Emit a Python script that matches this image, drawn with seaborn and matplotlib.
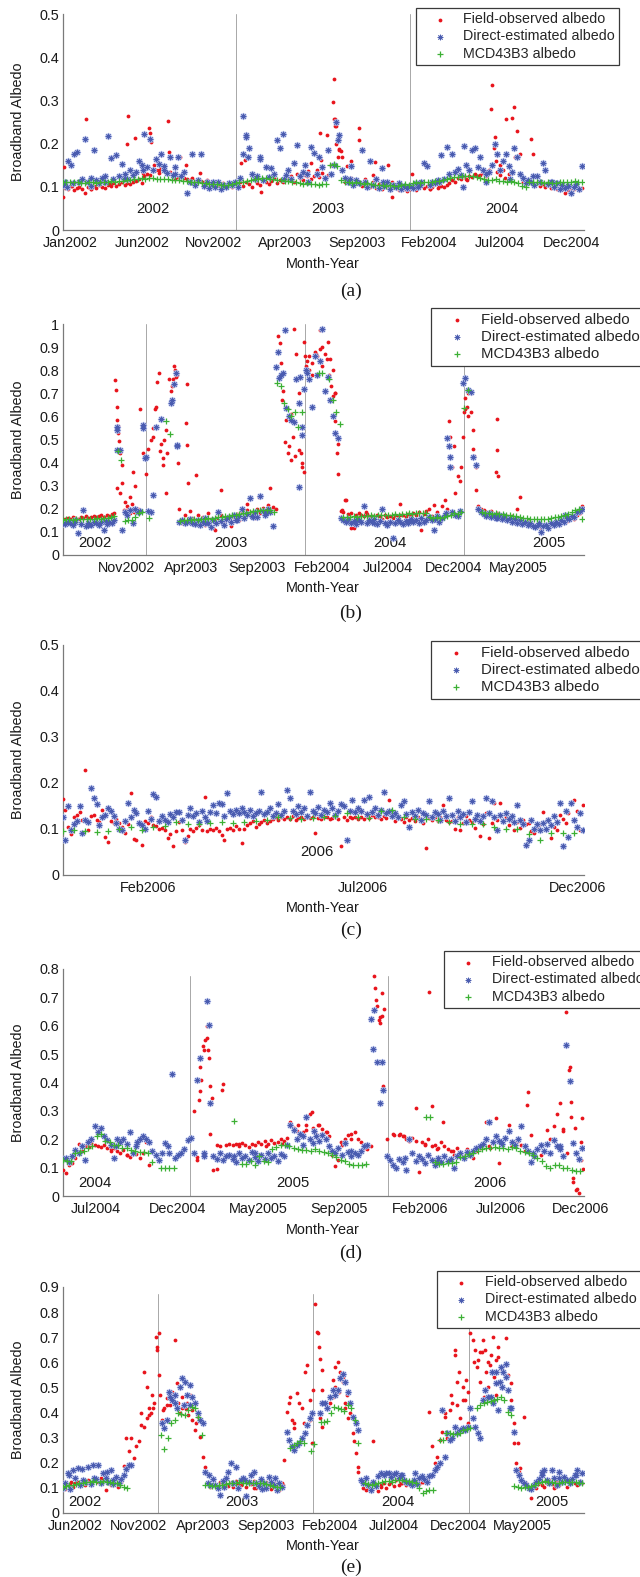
import numpy as np
import pandas as pd
import matplotlib
matplotlib.use("Agg")
import matplotlib.pyplot as plt
from matplotlib.markers import MarkerStyle
import seaborn as sns

sns.set_style("white")
plt.rcParams["font.family"] = ["Liberation Sans", "DejaVu Sans"]

N = float("nan")

# ------------------------------------------------------------------ panel (a)
# values in thousandths of albedo; daily obs shown every 6 days, MCD43B3 every 8 days
a_ticks = [17, 169, 321, 473, 626, 778, 930, 1082]
a_tick_labels = ["Jan2002", "Jun2002", "Nov2002", "Apr2003", "Sep2003", "Feb2004", "Jul2004", "Dec2004"]
a_xmax, a_ymax = 1108, 0.5
a_year_lines = [368, 739]
a_year_days = [192, 563, 934]
a_years = ["2002", "2003", "2004"]
a_field = [77, 98, 95, 101, 92, 97, 100, 94,
           86, 99, 96, 102, 98, 104, 100, 97, 105, 103, 108, 101, 106, 110, 104, 109, 107, 112,
           113, 118, 109, 125, 130, 128, 136, 140, 133, 146, 138, 131, 135, 127, 129, 122, 126, 120,
           118, 115, 121, 112, 117, 113, 110, 116, 108, 112, 106, 110, 104, 108, 102, 106,
           100, 106, 98, 110, 103, 112, 107, 99, 115, 108, 104, 118, 111, 106, 113, 120, 109, 115, 112, 117,
           118, 124, 112, 130, 121, 115, 128, 136, 119, 126, 140, 123, 132, 117, 127,
           150, 256, 240, 185, 170,
           112, 108, 120, 105, 115, 110, 103, 118, 107, 100, 112, 98, 106, 95, 102, 99, 92, 104, 97, 93, 100, 95, 90,
           96, 101, 93, 99, 104, 97, 102, 95, 100, 106, 98, 103, 100, 105,
           108, 115, 112, 120, 117, 124, 119, 126, 122, 130, 125, 128,
           132, 125, 138, 335, 215, 135, 127, 140, 256, 130, 133, 284, 230, 175,
           112, 106, 115, 110, 104, 108, 102, 107, 100, 105, 98, 103, 96, 101, 94, 99, 92, 97, 95, 100, 93, 98]
a_field_extra = [(4, 145), (49, 258), (140, 264), (136, 199), (154, 214), (184, 237), (186, 225), (188, 204),
                 (225, 252), (227, 180), (249, 170), (262, 150), (200, 160), (195, 150), (292, 131), (379, 154),
                 (388, 162), (422, 89), (527, 154), (548, 225), (550, 162), (561, 220), (574, 296), (577, 349),
                 (578, 258), (580, 240), (582, 200), (588, 188), (591, 183), (585, 170), (604, 147), (612, 160),
                 (629, 235), (631, 208), (639, 185), (656, 160), (665, 157), (691, 150), (700, 77), (743, 130),
                 (910, 280), (916, 190), (922, 160), (929, 150), (955, 260), (960, 190), (962, 170), (996, 210),
                 (999, 175), (1068, 85), (20, 103), (60, 95), (100, 108), (170, 132), (178, 145), (205, 140),
                 (240, 118), (330, 104), (470, 118), (520, 125), (600, 119), (660, 128), (700, 112), (780, 96),
                 (800, 102), (860, 116), (880, 125), (940, 120), (1020, 108), (1090, 104)]
a_direct = [105, 112, 160, 150, 176, 181, 110, 118,
            210, 110, 102, 185, 115, 108, 120, 112, 218, 166, 118, 174, 125, 153, 130, 118, 140, 127,
            135, 160, 150, 222, 145, 210, 138, 165, 152, 177, 140, 132, 168, 128, 145, 170, 125, 135,
            85, 110, 177, 105, 115, 175, 102, 112, 98, 106, 100, 110, 95, 104, 99, 108,
            105, 112, 100, 120, 264, 220, 190, 130, 118, 125, 170, 115, 145, 122, 143, 130, 208, 190, 222, 128,
            140, 118, 155, 197, 125, 135, 150, 112, 193, 178, 130, 170, 145, 120, 185,
            130, 150, 250, 220, 140,
            120, 110, 147, 105, 115, 108, 185, 112, 100, 160, 105, 118, 98, 143, 102, 110, 96, 104, 100, 108, 95, 102, 98,
            103, 98, 108, 100, 110, 154, 147, 105, 112, 108, 115, 174, 118, 193,
            130, 177, 135, 142, 128, 195, 150, 140, 185, 190, 145, 170,
            140, 130, 135, 150, 200, 177, 140, 160, 177, 147, 135, 190, 170, 130,
            120, 108, 115, 110, 104, 125, 112, 156, 140, 106, 112, 100, 108, 96, 104, 98, 102, 85, 100, 106, 95, 147]
a_direct_extra = [(10, 100), (22, 108), (60, 120), (90, 125), (130, 118), (170, 140), (215, 148), (240, 130),
                  (320, 112), (383, 177), (390, 216), (395, 170), (420, 165), (470, 118), (520, 130), (585, 208),
                  (610, 118), (680, 112), (760, 105), (800, 112), (850, 100), (900, 112), (950, 118), (1000, 125),
                  (1040, 110), (1075, 102)]
a_mcd = [112, 111, 110, 112, 110, 109, 108, 110, 111, 109, 110, 112, 111, 113, 112, 114, 113, 115, 116, 117,
         118, 120, 119, 121, 120, 118, 119,
         118, 117, 116, 115, 116, 114, 113, 112, 111, 110, 109, 108, 107, 106, 106, 105, 104, 105,
         106, 108, 110, 112, 113, 115, 117, 119, 120, 121, 118, 117, 116, 115, 114,
         113, 112, 111, 108, 107, 108, 106, 107, 105, 106,
         107, 150, 152, 148, 115,
         110, 111, 109, 110, 108, 107, 109, 106, 105, 104, 105, 103, 104, 102, 103, 105, 106, 104,
         108, 110, 109, 111, 112, 111, 113, 114, 116, 118,
         120, 122, 123, 125, 124, 126, 125, 122, 121,
         118, 116, 115, 117, 114, 113, 112, 114, 112,
         108, 103, 100, 110,
         111, 112, 110, 109, 110, 108, 109, 110, 111, 110, 112, 113, 111, 112]

# ------------------------------------------------------------------ panel (b)
b_ticks = [147, 296, 448, 600, 751, 902, 1053]
b_tick_labels = ["Nov2002", "Apr2003", "Sep2003", "Feb2004", "Jul2004", "Dec2004", "May2005"]
b_xmax, b_ymax = 1204, 1.0
b_year_lines = [192, 561, 927]
b_year_days = [74, 389, 756, 1123]
b_years = ["2002", "2003", "2004", "2005"]
b_field = [152, 158, 160, 155, 163, 160, 158, 165, 162, 167, 160, 165, 170, 163, 168, 172, 166, 175, 170, 178, 182,
           585, 440, 390, 230, 195, 180, 360, 300, 200, 630,
           440, 350, 460, 500, 550, 640, 790, 480, 500, 270, 760, 730, 820, 780, 200, 140, 175, 740, 190, 160,
           150, 172, 140, 165, 130, 180, 155, 115, 160, 145, 175, 138, 158, 170, 125, 162, 178, 150, 185, 165,
           195, 172, 188, 160, 200, 182, 205, 190, 215, 198, 208,
           200, 948, 830, 710, 585, 470, 410, 978, 870, 455, 380, 920,
           840, 860, 780, 880, 860, 975, 900, 870, 920, 850, 800, 700, 480,
           190, 185, 240, 178, 182, 115, 175, 180, 172, 168, 178, 165, 170, 160, 175, 168, 158, 172, 165, 170,
           162, 175, 168, 220, 172, 165, 178, 170, 182, 175, 185, 110, 178, 190,
           200, 170, 215, 185, 160, 210, 240, 200, 510,
           380, 270, 340, 320, 510, 630, 600, 700, 540, 380, 210, 200,
           195, 185, 178, 190, 172, 180, 168, 175, 165, 170, 160, 168, 155, 162, 150, 158, 145, 152, 140, 130,
           125, 135, 118, 128, 122, 115, 130, 135, 128, 145, 140, 152, 148, 160, 165, 158, 172, 180, 210]
b_field_extra = [(122, 757), (123, 714), (125, 640), (127, 560), (129, 530), (130, 495), (125, 290), (132, 267),
                 (137, 310), (142, 195), (150, 210), (155, 250), (160, 220), (165, 185), (214, 630), (209, 510),
                 (219, 750), (225, 450), (231, 420), (233, 390), (238, 540), (242, 440), (250, 710), (256, 760),
                 (259, 800), (261, 770), (266, 400), (285, 570), (287, 476), (289, 310), (308, 345), (352, 108),
                 (365, 280), (425, 220), (453, 250), (478, 290), (500, 770), (503, 916), (506, 670), (514, 490),
                 (520, 440), (527, 610), (533, 510), (537, 430), (545, 700), (550, 440), (553, 400), (557, 360),
                 (560, 860), (563, 820), (568, 800), (575, 830), (585, 870), (595, 890), (600, 820), (610, 850),
                 (615, 780), (620, 730), (625, 690), (628, 700), (630, 580), (633, 440), (637, 350), (653, 240),
                 (665, 115), (893, 580), (904, 470), (920, 380), (928, 620), (930, 680), (935, 640), (937, 700),
                 (942, 620), (948, 460), (950, 430), (955, 280), (1001, 360), (1004, 590), (1004, 455), (1006, 340),
                 (1050, 200), (1057, 250), (645, 195), (700, 185), (780, 175), (1080, 140), (1120, 130), (1150, 150)]
b_direct = [140, 135, 145, 138, 130, 142, 94, 135, 195, 125, 140, 132, 145, 138, 128, 142, 108, 135, 145, 140, 150,
            555, 455, 108, 185, 175, 195, 137, 200, 185, 190, 563, 425, 190, 185, 260, 555,
            N, 590, N, N, N, 670, 740, 476, 145, 150, 138, 145, 155, 140,
            135, 150, 128, 145, 160, 138, 120, 152, 140, 185, 148, 130, 158, 165, 142, 175, 150, 168, 200, 160,
            178, 245, 170, 185, 165, 255, 190, 175, 200, 185, 125,
            815, 880, 780, 790, 635, 600, 585, 577, 760, 296, 555, 720,
            790, 760, 640, 860, 780, 840, 980, 710, 770, 670, 600, 530, 505,
            160, 150, 145, 155, 140, 148, 135, 152, 145, 210, 138, 150, 142, 155, 135, 148, 200, 140, 130, 145,
            72, 138, 150, 142, 135, 148, 140, 155, 145, 150, 138, 160, 145, 152,
            165, 150, 108, 170, 145, 160, 175, 505, 425,
            185, 175, 170, 190, 743, 765, 715, 707, 425, 390, 200, 185,
            178, 170, 182, 165, 175, 160, 172, 155, 168, 150, 162, 145, 158, 140, 150, 135, 145, 130, 138, 125,
            120, 130, 100, 125, 132, 118, 140, 128, 145, 135, 150, 142, 160, 155, 170, 165, 185, 190, 200]
b_direct_extra = [(126, 540), (126, 455), (185, 550), (190, 420), (250, 660), (261, 790), (264, 470), (500, 765),
                  (514, 974), (546, 656), (553, 520), (562, 800), (549, 770), (893, 470), (895, 380), (885, 180),
                  (30, 150), (60, 128), (100, 148), (330, 140), (400, 150), (440, 165), (470, 180), (680, 155),
                  (720, 140), (800, 148), (860, 158), (1000, 160), (1100, 140), (1160, 175)]
b_mcd = [152, 154, 155, 153, 156, 155, 157, 156, 158, 157, 159, 158, 160, 162, 165, 168,
         450, 410, 149, 150, 152, 166, 180, 188, N, 160, N, N, N, N, 580, 525, N, N,
         147, 150,
         152, 150, 155, 153, 157, 158, 160, 158, 162, 165, 163, 167, 170, 172, 175, 178, 180, 183, 186, 190,
         192, 195, 196, 195, 193, 188,
         746, 730, 660, 630, 600, 620, 555, 620,
         N, N, N, N, 790, 790, N, 760, 670, 620, 565,
         165, 163, 165, 168, 166, 170, 168, 170, 172, 170, 172, 174, 173, 175, 174, 176, 175, 178, 177, 180,
         178, 180, 182, 180, 183, 165, 160, 163, 162, 165, 168,
         175, 180, 178, 185, 635, 715, N, N, N,
         185, 182, 180, 178, 180, 176, 178, 175, 172, 170, 168, 165, 162, 160, 158, 156, 155, 155, 157, 158,
         160, 163, 165, 168, 172, 178, 185, 195, 200, 155]

# ------------------------------------------------------------------ panel (c)  (daily obs every 2 days)
c_ticks = [60.4, 211.3, 362.2]
c_tick_labels = ["Feb2006", "Jul2006", "Dec2006"]
c_xmax, c_ymax = 367, 0.5
c_year_lines = []
c_year_days = [179]
c_years = ["2006"]
c_field = [165, 141, 105, 89, 125, 130, 138,
           120,
           228, 98, 128, 130, 120, 115, 141, 83, 72, 118, 113, 122, 112,
           105, 92, 110, 178, 79, 76, 115, 65, 118,
           112, 127, 108, 106, 100, 102, 97, 80, 90, 63, 95,
           116, 98, 72, 85, 100, 95, 102, 108, 98, 169, 96, 100, 98, 103, 95, 88, 75, 100, 102, 98, 106, 100, 70,
           100, 108, 112, 118, 105, 110, 115, 120, 112, 118, 122, 125, 120, 127, 122,
           125, 122, 128, 120, 124, 126, 121, 125, 123, 127, 92, 124, 122, 126, 125, 121, 124, 128, 122, 63,
           125, 120, 127, 123, 126, 122,
           126, 122, 128, 124, 130, 125, 127, 122, 129, 124,
           163,
           125, 118, 128, 122, 115, 126, 120, 124, 117, 127, 121, 114, 58, 123, 119, 125, 118, 127, 152, 120, 116,
           118, 100, 125, 98, 112, 128, 120, 115, 102, 122, 85, 110, 134, 80,
           112, 156, 120, 156, 118, 125, 108, 130, 98, 115, 102, 120, 110, 112,
           95, 92, 105, 110, 138, 118, 122, 80, 105, 98, 130, 122, 112, 134, 156, 163, 140, 98, 152]
c_field_extra = []
c_direct = [125, 76, 150, 98, 110, 118, 149,
            91, 120, 115, 189, 167, 154, 109, 125, 130, 145, 140, 128, 112, 100,
            98, 118, 156, 125, 141, 135, 112, 108, 100,
            140, 122, 176, 170, 118, 128, 120, 115, 132, 125, 138,
            138, 120, 76, 130, 145, 128, 135, 115, 140, 125, 118, 138, 152, 135, 156, 154, 128, 179, 140, 132,
            141, 135, 145,
            138, 130, 142, 128, 135, 140, 180, 132, 138, 145, 128, 135, 155, 130, 140,
            185, 167, 140, 132, 150, 138, 145, 128, 181, 140, 135, 148, 130, 142, 138, 156, 145, 130, 140, 155,
            150, 76, 140, 163, 138, 145,
            140, 163, 132, 170, 138, 145, 130, 142, 181, 135,
            140, 128, 135, 125, 152, 160, 132, 105, 138, 128, 142, 120, 135, 130, 160, 125, 138, 132, 120, 140,
            128, 167,
            130, 118, 140, 125, 132, 115, 138, 160, 122, 130, 118, 128, 167, 135,
            160, 125, 98, 130, 118, 135, 122, 128, 115, 152, 120, 110, 65, 76,
            120, 100, 110, 98, 112, 100, 120, 108, 128, 115, 156, 63, 140, 83, 156, 120, 105, 135, 98]
c_direct_extra = []
c_mcd = [95, 98, 96, 94, 95, 100, 104, 98, 104, 106, 116, 110, 111, 113, 116, 112, 116, 118, 120, 125,
         124, 122, 124, 126, 128, 134, 126, 124, 140, 142, 126, 122, 121, 120, 116, 110, 111, 110, 104, 101,
         100, 89, 75, 92, 92, 92]

# ------------------------------------------------------------------ panel (d)
d_ticks = [63, 215, 366, 517, 668, 819, 969]
d_tick_labels = ["Jul2004", "Dec2004", "May2005", "Sep2005", "Feb2006", "Jul2006", "Dec2006"]
d_xmax, d_ymax = 975, 0.8
d_year_lines = [238, 608]
d_year_days = [61, 431, 799]
d_years = ["2004", "2005", "2006"]
d_field = [92, 80, 110, 115, 133, 150,
           160, 175, 182, 186, 180, 175, 172, 180, 168, 165, 170, 158, 150, 162, 145, 139, 155, 148, 133, 150,
           190, 110,
           N, N, N, N, N, N, N, N, N, N, N, N, N,
           300, 138, 370, 515, 600, 220, 92, 180, 175, 394, 180,
           185, 178, 182, 175, 188, 180, 172, 185,
           180, 190, 185, 195, 182, 198, 188, 192, 200, 195,
           205, 260, 240, 230, 215, 225, 250, 290, 240, 220, 250, 235, 225, 210,
           145, 106, 127,
           180, 200, 215, 220, 225, 200, 190,
           170, 165, 175, 777, 670, 610, 386,
           200, 127,
           220, 98, 215, 210, 200, 195, 205, 310, 86, 190, 185, 200, 175, 180, 170, 190, 175, 165,
           160, 145, 170, 155, 140, 165, 150, 135, 160, 170,
           185, 262, 175, 190, 274, 115, 180, 200, 250, 175, 190, 195, 180,
           160, 368, 215, 150, 165, 145, 160,
           233, 200, 245, 290, 327, 230, 647, 456, 62, 20, 9, 274]
d_field_extra = [(252, 127), (256, 340), (257, 455), (259, 410), (262, 527), (267, 550), (271, 556), (272, 515),
                 (274, 486), (275, 386), (278, 327), (280, 345), (288, 94), (299, 374), (440, 250), (455, 232),
                 (467, 297), (478, 250), (486, 220), (494, 227), (585, 733), (587, 690), (591, 620), (593, 630),
                 (597, 715), (598, 635), (602, 660), (631, 220), (638, 210), (661, 195), (677, 180), (686, 720),
                 (690, 318), (700, 165), (711, 262), (869, 320), (936, 235), (944, 150), (947, 445), (950, 333),
                 (951, 280), (955, 50), (959, 240), (962, 25), (969, 127), (970, 190), (974, 94),
                 (30, 185), (50, 172), (90, 160), (120, 145), (330, 185), (380, 176), (410, 182), (520, 190),
                 (540, 200), (620, 215), (650, 205), (730, 160), (760, 150), (800, 170), (840, 175)]
d_direct = [130, 133, 121, 140, 162, 150,
            175, 127, 190, 200, 245, 227, 239, 210, 198, 180, 133, 200, 190, 200, 185, 227, 150, 175, 200, 210,
            200, 190,
            160, 145, 127, 150, 186, 175, 430, 135, 145, 150, 165, 198,
            205, 150, 410, 486, 140, 686, 327, 140, 130, 150, 127, 140,
            145, 130, 121, 150, 135, 140, 127, 155, 138, 125, 145, 130, 150, 135, 140, 125, 148, 140,
            180, 250, 233, 200, 220, 180, 280, 200, 186, 210, 195, 215, 200, 175,
            160, 150, 170, 145, 186, 155, 140, 150, 145, 160,
            175, 180, 624, 656, 474, 327, 374,
            140, 127, 110, 100, 130, 120, 92, 200, 150, 125, 140, 130, 115, 145, 127, 110, 135, 120, 140, 125,
            130, 98, 140, 150, 135, 155, 145, 160, 170, 175,
            185, 200, 262, 190, 210, 195, 185, 205, 230, 190, 180, 200, 245,
            175, 160, 121, 140, 165, 180, 160,
            185, 150, 198, 175, 165, 140, 533, 404, 186, 150, 130, 170]
d_direct_extra = [(274, 604), (265, 150), (581, 518), (597, 474), (100, 175), (140, 190), (200, 150), (320, 140),
                  (360, 150), (450, 210), (470, 230), (540, 160), (640, 135), (700, 120), (820, 190), (880, 150),
                  (930, 175)]
d_mcd = [127, 125, 122, 150, 155, 160, 168, 175, 210, 220, 195, 190, 180, 178, 170, 168, 162, 158, 155, 155,
         150, 120,
         N, 98, 98, 98, 98,
         N, N, N, N, N, N, N, N, N, N, N, N, N,
         266, N,
         113, 113, 125, 110, 140, 125, 121, 165, 174, 178, 180, 175, 168, 165, 162, 162, 160, 165, 160, 155,
         150, 145, 139, 127, 125, 113, 110, 109, 110, 113,
         N, N, N, N, N, N, N, N, N, N, N, N, N,
         278, 280, 120, 113, 113, 115, 118, 120, 138, 142, 148, 152, 160, 165, 170, 168, 172, 168, 170, 165,
         172, 168, 160, 155, 150, 145, 135, 125, 105, 100, 109, 108, 98, 98, 90, 89, 89]

# ------------------------------------------------------------------ panel (e)
e_ticks = [30, 180, 330, 480, 630, 780, 932, 1083]
e_tick_labels = ["Jun2002", "Nov2002", "Apr2003", "Sep2003", "Feb2004", "Jul2004", "Dec2004", "May2005"]
e_xmax, e_ymax = 1228, 0.9
e_year_lines = [226, 591, 958]
e_year_days = [53, 422, 790, 1152]
e_years = ["2002", "2003", "2004", "2005"]
e_field = [100, 95, 110, 112, 105, 118, 122, 115, 126, 110, 130, 120, 128, 135, 125, 140, 130, 93, 122, 110,
           128, 119, 135, 125,
           188, 300, 245, 300, 220, 265, 285,
           400, 344, 500, 420, 470, 440, 648, 715,
           370, 420, 457, 430, 450, 690, 516, 400, 460, 435, 440, 470, 370, 330, 384, 304,
           225, 185,
           120, 105, 130, 112, 98, 125, 115, 135, 108, 120, 102, 128, 117, 110, 132, 105, 122, 114, 126, 100,
           118, 130, 108, 124, 112, 95, 128, 104, 90, 118,
           210,
           404, 437, 370, 360, 476, 440, 420, 562, 590, 450, 278,
           834, 720, 615, 490,
           437, 420, 440, 530, 580, 600, 560, 540, 420, 380, 400,
           318, 238, 165,
           130, 100, 93, 95, 118, 285, 105, 88, 112, 120, 98, 115, 125, 108, 130, 112, 120, 135, 110, 125,
           118, 128, 132, 115, 125, 138, 130,
           404, 265, 200, 225, 290, 324, 384, 300, 410, 437, 648, 430, 380, 500, 450, 357,
           715, 690, 648, 610, 640, 690, 650, 600, 630, 700, 610, 620, 582, 560, 695, 550,
           516, 357, 200, 165, 130,
           384, 120, 95, 60, 110, 100, 125, 112, 105, 120, 130, 115, 100, 128, 110, 135, 122, 105, 125, 130,
           118, 112, 128, 120]
e_field_extra = [(191, 562), (221, 700), (223, 660), (228, 550), (213, 420), (204, 390), (199, 380), (230, 470),
                 (185, 350), (209, 400), (237, 410), (247, 430), (257, 480), (271, 440), (281, 420), (290, 415),
                 (295, 390), (305, 410), (314, 360), (535, 460), (545, 340), (569, 357), (583, 370), (591, 490),
                 (601, 715), (605, 660), (610, 570), (612, 344), (607, 380), (617, 437), (636, 460), (641, 500),
                 (651, 480), (660, 520), (665, 440), (670, 470), (681, 384), (687, 285), (697, 185), (901, 400),
                 (915, 470), (924, 628), (929, 520), (934, 560), (944, 450), (949, 530), (954, 480), (958, 420),
                 (968, 600), (977, 580), (982, 520), (987, 640), (992, 460), (997, 560), (1001, 500), (1006, 590),
                 (1016, 540), (1021, 470), (1025, 660), (1035, 570), (1045, 590), (1057, 450), (1062, 278),
                 (1073, 278), (1078, 180), (20, 125), (50, 118), (80, 132), (110, 120), (130, 105), (360, 112),
                 (400, 125), (450, 100), (480, 118), (520, 110), (750, 105), (800, 118), (850, 125), (1120, 115),
                 (1160, 105), (1200, 125)]
e_direct = [100, 120, 160, 95, 172, 140, 180, 110, 130, 125, 185, 115, 190, 135, 190, 120, 160, 140, 125, 170,
            130, 145, 118, 135,
            150, 175, 190, 190, N, N, N, N, N, N, N, N, N, N, N,
            357, 340, 370, 460, 450, 470, 420, 500, 536, 520, 470, 430, 460, 437, 400, 370,
            357, 165,
            120, 110, 135, 112, 100, 73, 128, 140, 165, 200, 120, 185, 100, 130, 140, 66, 125, 150, 165, 118,
            108, 135, 120, 100, 145, 125, 110, 90, 120, 105,
            N,
            324, 290, 265, 250, 270, 280, 300, 320, 350, 380, 400,
            N, N, 400, 437,
            437, 420, 460, 490, 470, 490, 536, 555, 520, 480, 440,
            384, 357, 330,
            130, 120, 140, 112, 93, 125, 108, 146, 160, 150, 158, 160, 145, 155, 160, 140, 150, 130, 125, 118,
            110, 130, 115, 140, 146, 135, 125,
            146, 150, 170, 185, 200, 410, 225, 318, 290, 300, 344, 320, 330, 340, 330, 344,
            420, 380, 344, 320, 298, 450, 490, 460, 463, 440, 516, 410, 580, 560, 595, 490,
            420, 324, 172, 150, 130,
            120, 110, 100, 95, 110, 125, 135, 150, 172, 130, 120, 172, 140, 110, 165, 125, 145, 130, 118, 135,
            150, 172, 125, 160]
e_direct_extra = [(1045, 543), (1054, 420), (1035, 500), (1011, 560), (1021, 560), (1030, 520), (15, 150),
                  (45, 175), (75, 140), (105, 165), (120, 115), (345, 150), (380, 105), (430, 130), (470, 95),
                  (500, 140), (800, 150), (830, 160), (1130, 165), (1170, 140), (1210, 150), (250, 480),
                  (265, 440), (285, 430), (300, 510)]
e_mcd = [103, 108, 110, 112, 115, 118, 120, 122, 125, 126, 124, 125, 126, 124, 122, 120, 118, 110, 103, 100,
         N, N, N, N, N, N, N, N, N,
         310, 255, 300, 357, 370, 400, 395, 392, 410, 424, 420, 384, 310,
         112, 110, 106, 108, 112, 113, 115, 120, 118, 120, 122, 120, 121, 120, 119, 120, 121, 120, 115, 110,
         108, 103, 103,
         N, N,
         258, 270, 278, 285, 280,
         N,
         245, 274,
         N,
         364, 362, 365, 400, 424, 418, 413, 408, 430, 420, 370, 278,
         N,
         120, 115, 112, 115, 120, 125, 128, 126, 125, 130, 132, 130, 128, 126, 125, 118, 100, 80, 86, 90, 93,
         N,
         290, 290, 320, 318, 314, 315, 318, 330, 335, 337,
         N,
         420, 430, 438, 443, 445, 450, 455, 463, 450, 404, 390,
         106, 104, 100, 102, 105, 108, 112, 118, 122, 126, 124, 122, 120, 121, 122, 124, 123, 125, 122, 120, 118]

SERIES_NAMES = ["Field-observed albedo", "Direct-estimated albedo", "MCD43B3 albedo"]


def frame(vals, step, extra=()):
    v = np.asarray(vals, float) / 1000.0
    d = np.arange(len(v)) * float(step)
    if len(extra):
        ex = np.asarray(extra, float)
        d = np.concatenate([d, ex[:, 0]])
        v = np.concatenate([v, ex[:, 1] / 1000.0])
    return pd.DataFrame({"day": d, "albedo": v}).dropna()


panels = [
    dict(tag="(a)", field=frame(a_field, 6, a_field_extra), direct=frame(a_direct, 6, a_direct_extra),
         mcd=frame(a_mcd, 8), ticks=a_ticks, labels=a_tick_labels, xmax=a_xmax, ymax=a_ymax,
         lines=a_year_lines, ydays=a_year_days, years=a_years),
    dict(tag="(b)", field=frame(b_field, 6, b_field_extra), direct=frame(b_direct, 6, b_direct_extra),
         mcd=frame(b_mcd, 8), ticks=b_ticks, labels=b_tick_labels, xmax=b_xmax, ymax=b_ymax,
         lines=b_year_lines, ydays=b_year_days, years=b_years),
    dict(tag="(c)", field=frame(c_field, 2, c_field_extra), direct=frame(c_direct, 2, c_direct_extra),
         mcd=frame(c_mcd, 8), ticks=c_ticks, labels=c_tick_labels, xmax=c_xmax, ymax=c_ymax,
         lines=c_year_lines, ydays=c_year_days, years=c_years),
    dict(tag="(d)", field=frame(d_field, 6, d_field_extra), direct=frame(d_direct, 6, d_direct_extra),
         mcd=frame(d_mcd, 8), ticks=d_ticks, labels=d_tick_labels, xmax=d_xmax, ymax=d_ymax,
         lines=d_year_lines, ydays=d_year_days, years=d_years),
    dict(tag="(e)", field=frame(e_field, 6, e_field_extra), direct=frame(e_direct, 6, e_direct_extra),
         mcd=frame(e_mcd, 8), ticks=e_ticks, labels=e_tick_labels, xmax=e_xmax, ymax=e_ymax,
         lines=e_year_lines, ydays=e_year_days, years=e_years),
]

# ---------------------------------------------------------------- layout / style
W, H = 640, 1577
fig = plt.figure(figsize=(W / 100, H / 100), dpi=100)

ax_px = [(14, 230), (324, 555), (645, 875), (969, 1196), (1287, 1513)]   # top, bottom in pixels
leg_px = [(415.5, 8), (431, 308), (430.6, 641), (443.7, 951), (436.7, 1271)]
leg_fs = [10.3, 10.8, 10.8, 10.3, 10.3]
tag_y = [291, 613, 930, 1253, 1567]
year_y = [0.049, 0.05, 0.049, 0.047, 0.044]
line_top = [1.0, 1.0, 1.0, 0.97, 0.97]
left_px, right_px = 62.5, 584

RED, BLUE, BLUE_HALO, GREEN = "#e8141c", "#4a5cb0", "#c3ccef", "#3cb034"
SPINE = "#7a7a7a"
FS = 10.4
AST = MarkerStyle((8, 2, 0))

for k, p in enumerate(panels):
    top, bot = ax_px[k]
    ax = fig.add_axes([left_px / W, 1 - bot / H, (right_px - left_px) / W, (bot - top) / H])

    for xl in p["lines"]:
        ax.axvline(xl, ymin=0, ymax=line_top[k], color="#a8a8a8", lw=0.7, zorder=1)

    sns.scatterplot(data=p["field"], x="day", y="albedo", ax=ax, marker="o", s=7.5, color=RED,
                    linewidth=0, label=SERIES_NAMES[0], zorder=3)
    # soft halo under the asterisks (the reference's blue marks look blurred)
    sns.scatterplot(data=p["direct"], x="day", y="albedo", ax=ax, marker=AST, s=16,
                    color=BLUE_HALO, linewidth=1.3, zorder=3.5)
    sns.scatterplot(data=p["direct"], x="day", y="albedo", ax=ax, marker=AST, s=13,
                    color=BLUE, linewidth=0.6, label=SERIES_NAMES[1], zorder=4)
    sns.scatterplot(data=p["mcd"], x="day", y="albedo", ax=ax, marker="+", s=24, color=GREEN,
                    linewidth=0.9, label=SERIES_NAMES[2], zorder=5)

    ax.set_xlim(0, p["xmax"])
    ax.set_ylim(0, p["ymax"])
    ax.set_xticks(p["ticks"])
    ax.set_xticklabels(p["labels"])
    yt = np.round(np.arange(0, p["ymax"] + 1e-9, 0.1), 1)
    ax.set_yticks(yt)
    ax.set_yticklabels(["0" if v == 0 else ("1" if v == 1 else f"{v:.1f}") for v in yt])
    ax.tick_params(axis="both", direction="in", length=4, width=0.8, color=SPINE,
                   labelsize=FS, labelcolor="#1a1a1a")
    ax.tick_params(axis="x", pad=4)
    ax.tick_params(axis="y", pad=2.5)
    for side in ("top", "right"):
        ax.spines[side].set_visible(False)
    for side in ("left", "bottom"):
        ax.spines[side].set_color(SPINE)
        ax.spines[side].set_linewidth(0.9)

    ax.set_xlabel("Month-Year", fontsize=FS, labelpad=5, color="#1a1a1a")
    ax.set_ylabel("Broadband Albedo", fontsize=FS, labelpad=10, color="#1a1a1a")

    for yd, yr in zip(p["ydays"], p["years"]):
        ax.text(yd, year_y[k], yr, ha="center", va="center", fontsize=FS + 0.3, color="#1a1a1a")

    handles, labels = ax.get_legend_handles_labels()
    lx, ly = leg_px[k]
    leg = ax.legend(handles, labels, loc="upper left", bbox_to_anchor=(lx / W, 1 - ly / H),
                    bbox_transform=fig.transFigure, borderaxespad=0, frameon=True, fancybox=False,
                    framealpha=1, edgecolor="#3a3a3a", handlelength=2.8, handletextpad=0.25,
                    borderpad=0.3, labelspacing=0.22, scatterpoints=1, fontsize=leg_fs[k])
    leg.get_frame().set_linewidth(0.9)
    leg.set_zorder(10)

    fig.text(351 / W, 1 - tag_y[k] / H, p["tag"], ha="center", va="center",
             fontsize=14, family=["Liberation Serif", "DejaVu Serif"], color="#1a1a1a")

fig.savefig("out.png", dpi=100)
